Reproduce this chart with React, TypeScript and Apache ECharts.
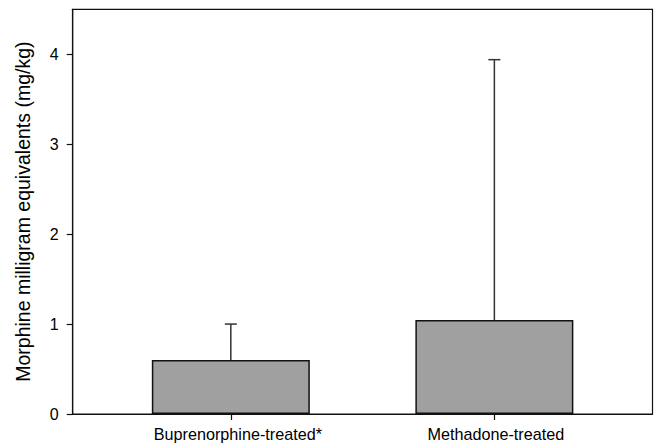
import React, { useEffect, useRef } from "react";
import * as echarts from "echarts";

const categories = ["Buprenorphine-treated*", "Methadone-treated"];
const means = [0.6, 1.045];
const upperErrors = [1.0, 3.94];
const yTicks = [0, 1, 2, 3, 4];

export default function App() {
  const ref = useRef<HTMLDivElement>(null);
  useEffect(() => {
    if (!ref.current) return;
    const chart = echarts.init(ref.current, null, { renderer: "svg" });
    const positions = categories.map((_, i) => i);
    chart.setOption({
      animation: false,
      grid: {
        left: 72.7,
        right: 1.5,
        top: 9.3,
        bottom: 32,
        show: true,
        borderColor: "#111",
        borderWidth: 1.2,
        backgroundColor: "transparent",
      },
      xAxis: {
        type: "value",
        min: -0.6,
        max: 1.6,
        splitLine: { show: false },
        axisLine: { show: true, onZero: false, lineStyle: { color: "#111", width: 1.2 } },
        axisTick: {
          show: true,
          customValues: positions,
          length: 6,
          lineStyle: { color: "#111", width: 1.2 },
        },
        axisLabel: {
          customValues: positions,
          formatter: (v: number) => {
            const i = Math.round(v);
            const t = categories[i] ?? "";
            return i === 0 ? "{a|" + t + "}" : "{b|" + t + "}";
          },
          rich: {
            a: {
              color: "#000",
              fontFamily: "Liberation Sans, Arial, sans-serif",
              fontSize: 16.2,
              padding: [0, 0, 0, 14],
            },
            b: {
              color: "#000",
              fontFamily: "Liberation Sans, Arial, sans-serif",
              fontSize: 16.2,
              padding: [0, 0, 0, 3],
            },
          },
          color: "#000",
          fontFamily: "Liberation Sans, Arial, sans-serif",
          fontSize: 16.2,
          margin: 12,
        },
      },
      yAxis: {
        type: "value",
        min: 0,
        max: 4.5,
        interval: 1,
        name: "Morphine milligram equivalents (mg/kg)",
        nameLocation: "middle",
        nameGap: 40,
        nameTextStyle: {
          color: "#000",
          fontFamily: "Liberation Sans, Arial, sans-serif",
          fontSize: 19.5,
        },
        splitLine: { show: false },
        axisLine: { show: true, onZero: false, lineStyle: { color: "#111", width: 1.2 } },
        axisTick: {
          show: true,
          customValues: yTicks,
          length: 6,
          lineStyle: { color: "#111", width: 1.2 },
        },
        axisLabel: {
          customValues: yTicks,
          color: "#000",
          fontFamily: "Liberation Sans, Arial, sans-serif",
          fontSize: 16,
          margin: 14,
        },
      },
      series: [
        {
          type: "bar",
          data: positions.map((p, i) => [p, means[i]]),
          barWidth: 158,
          itemStyle: { color: "#a0a0a0", borderColor: "#111", borderWidth: 1.5 },
          z: 2,
        },
        {
          type: "custom",
          z: 3,
          data: positions.map((p, i) => [p, means[i], upperErrors[i]]),
          renderItem: (params: any, api: any) => {
            const x = api.value(0);
            const lo = api.coord([x, api.value(1)]);
            const hi = api.coord([x, api.value(2)]);
            const half = 6;
            return {
              type: "group",
              children: [
                {
                  type: "line",
                  shape: { x1: lo[0], y1: lo[1], x2: hi[0], y2: hi[1] },
                  style: { stroke: "#333", lineWidth: 1.5 },
                },
                {
                  type: "line",
                  shape: { x1: hi[0] - half, y1: hi[1], x2: hi[0] + half, y2: hi[1] },
                  style: { stroke: "#333", lineWidth: 1.5 },
                },
              ],
            };
          },
        },
      ],
    });
    return () => chart.dispose();
  }, []);
  return (
    <div
      ref={ref}
      style={{ position: "fixed", left: 0, top: 0, width: 654, height: 446, background: "#fff" }}
    />
  );
}
